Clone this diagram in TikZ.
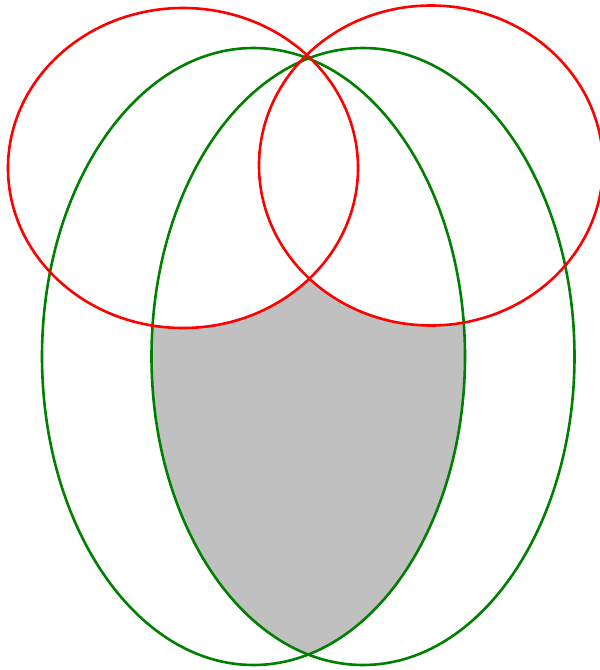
\documentclass[tikz,border=0pt]{standalone}
\definecolor{cred}{HTML}{FF0000}
\definecolor{cgreen}{HTML}{008000}
\definecolor{cgray}{HTML}{C0C0C0}
\tikzset{
  redcurve/.style={draw=cred,line width=2.6pt},
  greencurve/.style={draw=cgreen,line width=2.6pt}
}
\begin{document}
\begin{tikzpicture}[x=1pt,y=-1pt]
\useasboundingbox (0,0) rectangle (600,670);
\fill[white] (0,0) rectangle (600,670);
% shaded region: inside both green ellipses, outside both red ellipses
\begin{scope}
  \clip (253.5,356.5) ellipse [x radius=211.5, y radius=308.5];
  \clip (363,356.5) ellipse [x radius=211.5, y radius=308.5];
  \fill[cgray] (0,0) rectangle (600,670);
  \fill[white] (183,168) ellipse [x radius=175, y radius=160];
  \fill[white] (431,165.5) ellipse [x radius=172, y radius=160];
\end{scope}
\draw[greencurve] (253.5,356.5) ellipse [x radius=211.5, y radius=308.5];
\draw[greencurve] (363,356.5) ellipse [x radius=211.5, y radius=308.5];
\draw[redcurve] (183,168) ellipse [x radius=175, y radius=160];
\draw[redcurve] (431,165.5) ellipse [x radius=172, y radius=160];
\end{tikzpicture}
\end{document}
